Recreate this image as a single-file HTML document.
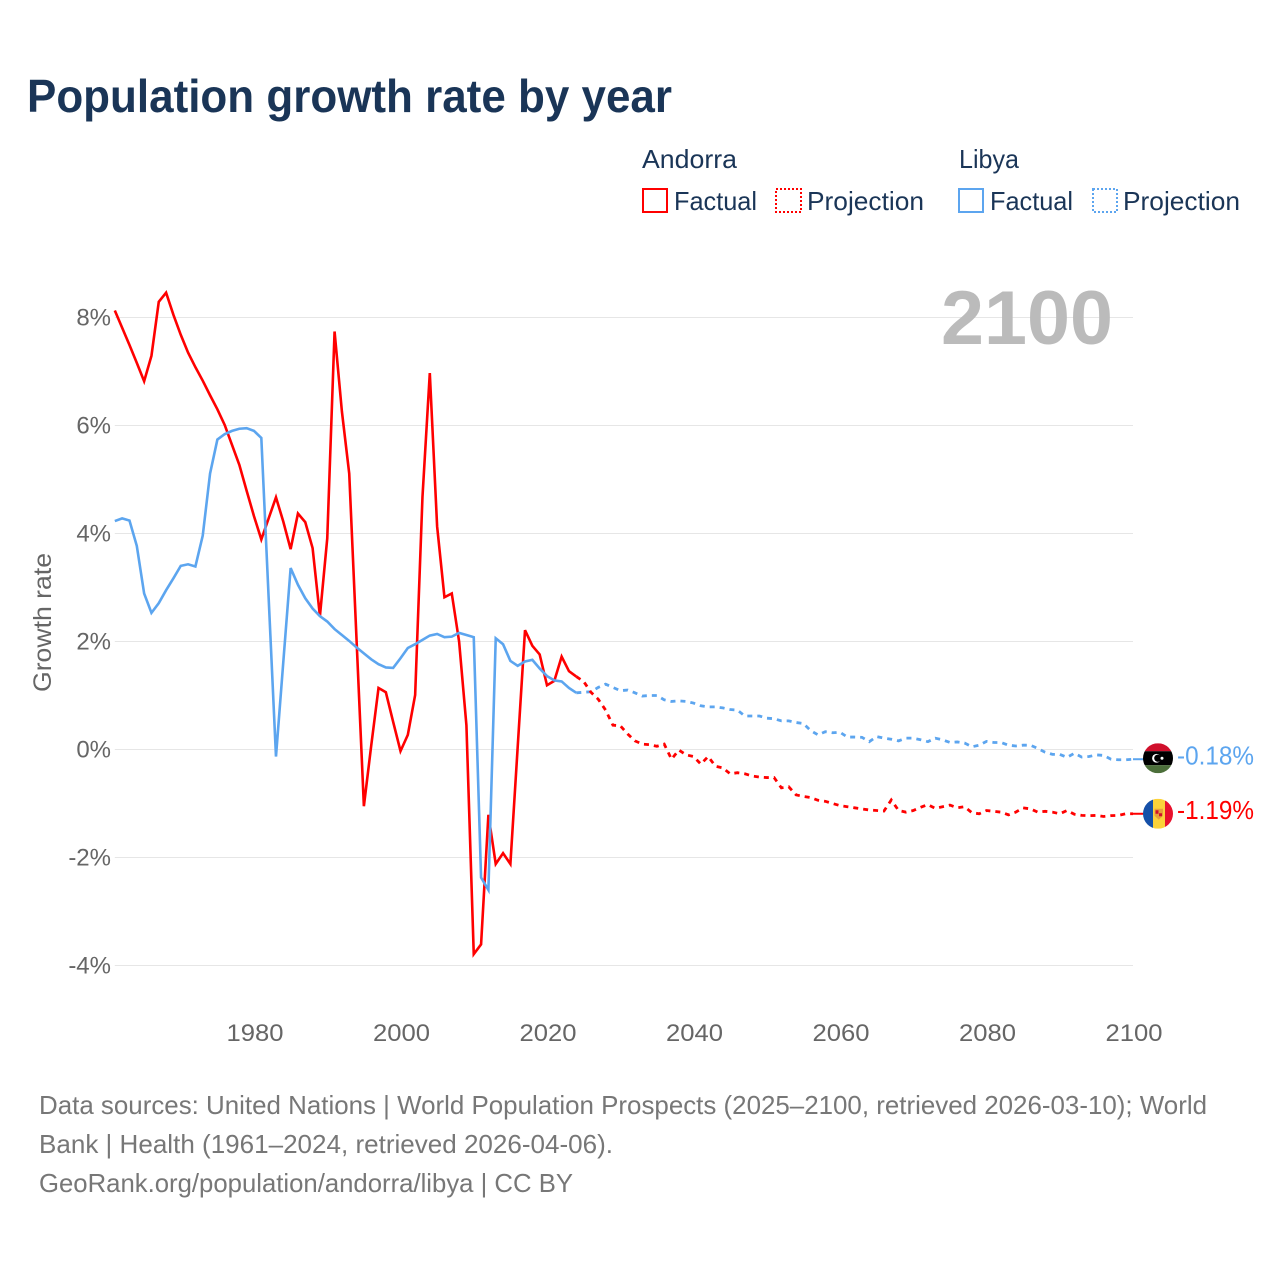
<!DOCTYPE html>
<html lang="en">
<head>
<meta charset="utf-8">
<title>Population growth rate by year</title>
<style>
html,body{margin:0;padding:0;background:#fff;width:1280px;height:1280px;overflow:hidden}
svg{display:block}
text{font-family:"Liberation Sans",sans-serif}
</style>
</head>
<body>
<svg id="chart" xmlns="http://www.w3.org/2000/svg" width="1280" height="1280" viewBox="0 0 1280 1280">
  <rect x="0" y="0" width="1280" height="1280" fill="#fff"/>
  <text x="27" y="112" font-size="46" font-weight="700" fill="#1a3557" textLength="645" lengthAdjust="spacingAndGlyphs">Population growth rate by year</text>

  <g font-size="26" fill="#1a3557">
    <text x="642" y="168" textLength="95" lengthAdjust="spacingAndGlyphs">Andorra</text>
    <rect x="643" y="189" width="24" height="23" fill="none" stroke="#ff0000" stroke-width="2"/>
    <text x="674" y="210" textLength="83" lengthAdjust="spacingAndGlyphs">Factual</text>
    <rect x="776" y="189" width="25" height="23" fill="none" stroke="#ff0000" stroke-width="2" stroke-dasharray="2 2"/>
    <text x="807" y="210" textLength="117" lengthAdjust="spacingAndGlyphs">Projection</text>
    <text x="959" y="168" textLength="60" lengthAdjust="spacingAndGlyphs">Libya</text>
    <rect x="959" y="189" width="24" height="23" fill="none" stroke="#5ca5ef" stroke-width="2"/>
    <text x="990" y="210" textLength="83" lengthAdjust="spacingAndGlyphs">Factual</text>
    <rect x="1093" y="189" width="24" height="23" fill="none" stroke="#5ca5ef" stroke-width="2" stroke-dasharray="2 2"/>
    <text x="1123" y="210" textLength="117" lengthAdjust="spacingAndGlyphs">Projection</text>
  </g>

  <g id="grid"></g>
  <g id="yticks"></g>
  <g id="xticks"></g>
  <text transform="translate(51 692) rotate(-90)" font-size="25" fill="#666" textLength="139" lengthAdjust="spacingAndGlyphs">Growth rate</text>
  <text x="1113" y="344" text-anchor="end" font-size="76" font-weight="700" fill="#bbbbbb" textLength="172" lengthAdjust="spacingAndGlyphs">2100</text>

  <g id="series"></g>

  <defs>
    <clipPath id="clip-libya"><circle cx="0" cy="0" r="15"/></clipPath>
    <clipPath id="clip-andorra"><circle cx="0" cy="0" r="15"/></clipPath>
  </defs>
  <g id="flag-libya" clip-path="url(#clip-libya)">
    <rect x="-15" y="-15" width="30" height="8" fill="#d0102c"/>
    <rect x="-15" y="-7" width="30" height="14" fill="#000"/>
    <rect x="-15" y="7" width="30" height="8" fill="#4c6f3a"/>
    <circle cx="-1.5" cy="0" r="4.4" fill="#fff"/>
    <circle cx="-0.2" cy="0" r="3.6" fill="#000"/>
    <circle cx="4" cy="0" r="1.5" fill="#fff"/>
  </g>
  <g id="flag-andorra" clip-path="url(#clip-andorra)">
    <rect x="-15" y="-15" width="10" height="30" fill="#1550a8"/>
    <rect x="-5" y="-15" width="12" height="30" fill="#fbd23a"/>
    <rect x="7" y="-15" width="8" height="30" fill="#e8112d"/>
    <path d="M-3.5 -5 H5 V2 L0.8 6 L-3.5 2 Z" fill="#e8a03a"/>
    <rect x="-2.5" y="-3.5" width="3" height="3.5" fill="#d0102c"/>
    <rect x="1" y="-0.5" width="3" height="3" fill="#d0102c"/>
  </g>
  <text id="label-libya" x="1177" y="765" font-size="26" fill="#5ca5ef" textLength="77" lengthAdjust="spacingAndGlyphs">-0.18%</text>
  <text id="label-andorra" x="1177" y="819" font-size="26" fill="#ff0000" textLength="77" lengthAdjust="spacingAndGlyphs">-1.19%</text>

  <g font-size="26" fill="#777">
    <text x="39" y="1114" textLength="1168" lengthAdjust="spacingAndGlyphs">Data sources: United Nations | World Population Prospects (2025–2100, retrieved 2026-03-10); World</text>
    <text x="39" y="1153" textLength="574" lengthAdjust="spacingAndGlyphs">Bank | Health (1961–2024, retrieved 2026-04-06).</text>
    <text x="39" y="1192" textLength="534" lengthAdjust="spacingAndGlyphs">GeoRank.org/population/andorra/libya | CC BY</text>
  </g>
</svg>

<script>
const xTickYears = [1980, 2000, 2020, 2040, 2060, 2080, 2100];
const yTickValues = [8, 6, 4, 2, 0, -2, -4];
const yTickLabels = ["8%", "6%", "4%", "2%", "0%", "-2%", "-4%"];
const factualStartYear = 1961;
const projectionStartYear = 2024;

const andorraFactual = [
  8.13, 7.81, 7.49, 7.16, 6.82, 7.29, 8.29, 8.46, 8.05, 7.68,
  7.35, 7.08, 6.83, 6.56, 6.30, 6.01, 5.64, 5.27, 4.79, 4.32,
  3.89, 4.28, 4.67, 4.22, 3.71, 4.37, 4.21, 3.73, 2.47, 3.91,
  7.74, 6.26, 5.11, 2.03, -1.05, 0.07, 1.14, 1.06, 0.51, -0.03,
  0.27, 1.01, 4.68, 6.97, 4.13, 2.82, 2.89, 2.00, 0.45, -3.79,
  -3.61, -1.21, -2.12, -1.92, -2.12, 0.05, 2.21, 1.92, 1.76, 1.19,
  1.27, 1.72, 1.45, 1.35
];
const libyaFactual = [
  4.23, 4.28, 4.24, 3.77, 2.89, 2.53, 2.71, 2.95, 3.17, 3.40,
  3.43, 3.39, 3.96, 5.11, 5.74, 5.84, 5.90, 5.94, 5.95, 5.90,
  5.77, 2.81, -0.13, 1.62, 3.36, 3.05, 2.80, 2.61, 2.47, 2.37,
  2.23, 2.12, 2.01, 1.89, 1.78, 1.67, 1.58, 1.52, 1.51, 1.69,
  1.88, 1.95, 2.03, 2.11, 2.14, 2.08, 2.09, 2.16, 2.12, 2.08,
  -2.37, -2.60, 2.06, 1.95, 1.64, 1.55, 1.63, 1.66, 1.50, 1.36,
  1.28, 1.26, 1.14, 1.05
];
const andorraProjection = [
  1.35, 1.26, 1.06, 0.93, 0.73, 0.45, 0.44, 0.29, 0.16, 0.10, 0.09,
  0.06, 0.10, -0.18, -0.01, -0.10, -0.13, -0.27, -0.13, -0.31, -0.34,
  -0.45, -0.43, -0.45, -0.49, -0.51, -0.52, -0.52, -0.71, -0.69, -0.84,
  -0.87, -0.89, -0.94, -0.96, -1.00, -1.04, -1.06, -1.08, -1.10, -1.12,
  -1.13, -1.14, -0.935, -1.13, -1.16, -1.13, -1.07, -1.02, -1.09, -1.06,
  -1.03, -1.08, -1.06, -1.17, -1.19, -1.13, -1.145, -1.16, -1.21, -1.16,
  -1.08, -1.10, -1.16, -1.145, -1.16, -1.19, -1.13, -1.20, -1.22, -1.225,
  -1.22, -1.24, -1.225, -1.22, -1.19, -1.19
];
const libyaProjection = [
  1.05, 1.06, 1.07, 1.15, 1.21, 1.15, 1.09, 1.10, 1.05, 0.99, 1.00,
  1.00, 0.92, 0.89, 0.90, 0.89, 0.86, 0.81, 0.79, 0.79, 0.77,
  0.74, 0.73, 0.62, 0.62, 0.62, 0.58, 0.57, 0.53, 0.53, 0.50,
  0.48, 0.35, 0.27, 0.33, 0.31, 0.32, 0.23, 0.23, 0.225, 0.145,
  0.24, 0.21, 0.19, 0.16, 0.21, 0.21, 0.18, 0.145, 0.21, 0.18,
  0.13, 0.14, 0.12, 0.05, 0.08, 0.15, 0.13, 0.13, 0.08, 0.065,
  0.08, 0.08, 0.02, -0.05, -0.09, -0.09, -0.145, -0.07, -0.14, -0.13,
  -0.10, -0.11, -0.18, -0.19, -0.19, -0.18
];

const SVG_NS = "http://www.w3.org/2000/svg";
const RED = "#ff0000";
const BLUE = "#5ca5ef";

function xScale(year) { return 1133 + (year - 2100) * 7.325; }
function yScale(value) { return 749.5 - value * 54; }

function pathFor(values, startYear) {
  return values.map(function (v, i) {
    return (i === 0 ? "M" : "L") + xScale(startYear + i).toFixed(2) + " " + yScale(v).toFixed(2);
  }).join(" ");
}

const gridGroup = document.getElementById("grid");
const yTickGroup = document.getElementById("yticks");
const xTickGroup = document.getElementById("xticks");
const seriesGroup = document.getElementById("series");

yTickValues.forEach(function (v, i) {
  const line = document.createElementNS(SVG_NS, "line");
  
  
  line.setAttribute("x1", xScale(factualStartYear));
  line.setAttribute("x2", xScale(2100));
  line.setAttribute("y1", yScale(v));
  line.setAttribute("y2", yScale(v));
  line.setAttribute("stroke", "#e6e6e6");
  line.setAttribute("stroke-width", "1");
  gridGroup.appendChild(line);

  const label = document.createElementNS(SVG_NS, "text");
  
  
  label.setAttribute("x", 111);
  label.setAttribute("y", yScale(v) + 8);
  label.setAttribute("text-anchor", "end");
  label.setAttribute("font-size", "24");
  label.setAttribute("fill", "#666");
  label.textContent = yTickLabels[i];
  yTickGroup.appendChild(label);
});

xTickYears.forEach(function (year) {
  const label = document.createElementNS(SVG_NS, "text");
  
  
  label.setAttribute("x", xScale(year) + 1);
  label.setAttribute("y", 1041);
  label.setAttribute("text-anchor", "middle");
  label.setAttribute("font-size", "24");
  label.setAttribute("fill", "#666");
  label.setAttribute("textLength", "57");
  label.setAttribute("lengthAdjust", "spacingAndGlyphs");
  label.textContent = String(year);
  xTickGroup.appendChild(label);
});

function addLine(name, values, startYear, color, dashed) {
  const p = document.createElementNS(SVG_NS, "path");
  
  
  p.setAttribute("d", pathFor(values, startYear));
  p.setAttribute("fill", "none");
  p.setAttribute("stroke", color);
  p.setAttribute("stroke-width", dashed ? "2.8" : "2.6");
  p.setAttribute("stroke-linejoin", "miter");
  if (dashed) { p.setAttribute("stroke-dasharray", "5 5"); }
  seriesGroup.appendChild(p);
}

addLine("libya-projection-line", libyaProjection, projectionStartYear, BLUE, true);
addLine("andorra-projection-line", andorraProjection, projectionStartYear, RED, true);
addLine("andorra-factual-line", andorraFactual, factualStartYear, RED, false);
addLine("libya-factual-line", libyaFactual, factualStartYear, BLUE, false);

function addTail(name, value, color) {
  const t = document.createElementNS(SVG_NS, "line");
  
  
  t.setAttribute("x1", xScale(2100));
  t.setAttribute("x2", xScale(2100) + 11);
  t.setAttribute("y1", yScale(value));
  t.setAttribute("y2", yScale(value));
  t.setAttribute("stroke", color);
  t.setAttribute("stroke-width", "2");
  seriesGroup.appendChild(t);
}

const libyaEnd = libyaProjection[libyaProjection.length - 1];
const andorraEnd = andorraProjection[andorraProjection.length - 1];
addTail("libya-end-connector", libyaEnd, BLUE);
addTail("andorra-end-connector", andorraEnd, RED);

document.getElementById("flag-libya").setAttribute("transform", "translate(1158 " + (yScale(libyaEnd) - 1) + ")");
document.getElementById("flag-andorra").setAttribute("transform", "translate(1158 " + yScale(andorraEnd) + ")");
document.getElementById("label-libya").setAttribute("y", yScale(libyaEnd) + 5.5);
document.getElementById("label-andorra").setAttribute("y", yScale(andorraEnd) + 5);
</script>
</body>
</html>
